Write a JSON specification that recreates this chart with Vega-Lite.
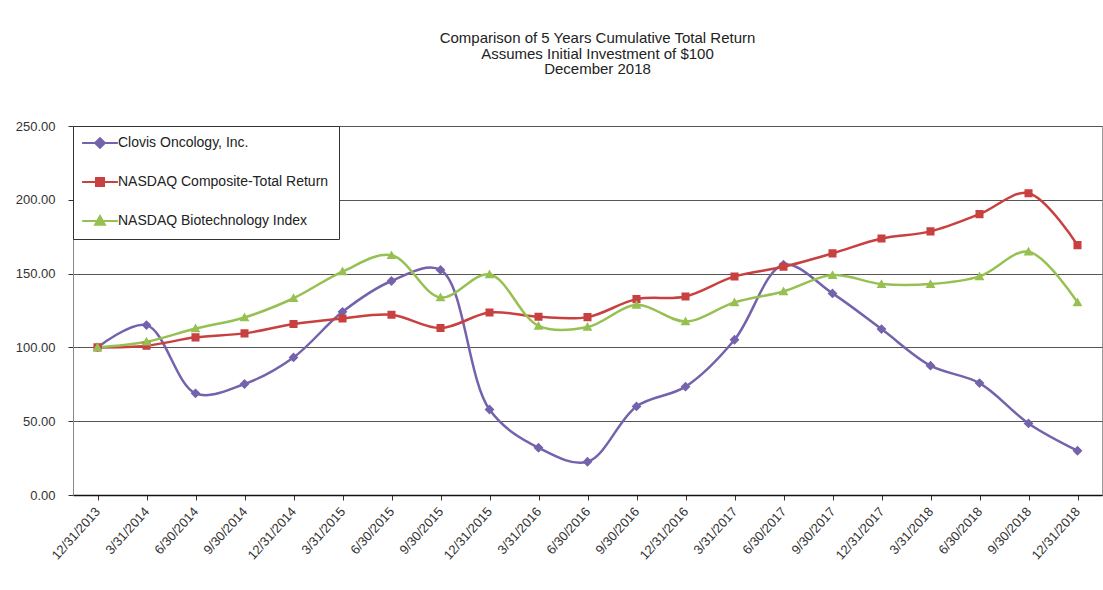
{
  "$schema": "https://vega.github.io/schema/vega-lite/v6.json",
  "width": 1029,
  "height": 369,
  "autosize": {"type": "none"},
  "padding": {"left": 73, "top": 126, "right": 1, "bottom": 95},
  "background": "white",
  "title": {
    "text": ["Comparison of 5 Years Cumulative Total Return", "Assumes Initial Investment of $100", "December 2018"],
    "anchor": "middle",
    "dx": 10,
    "offset": 43,
    "font": "Liberation Sans",
    "fontSize": 15,
    "fontWeight": "normal",
    "color": "#222",
    "lineHeight": 15.5
  },
  "config": {
    "font": "Liberation Sans",
    "view": {"stroke": "#999", "strokeWidth": 1},
    "axis": {"labelFont": "Liberation Sans", "labelColor": "#333", "labelFontSize": 12.5}
  },
  "data": {
    "values": [
      {"date": "12/31/2013", "series": "Clovis Oncology, Inc.", "value": 100},
      {"date": "3/31/2014", "series": "Clovis Oncology, Inc.", "value": 115.1},
      {"date": "6/30/2014", "series": "Clovis Oncology, Inc.", "value": 68.9},
      {"date": "9/30/2014", "series": "Clovis Oncology, Inc.", "value": 75.2},
      {"date": "12/31/2014", "series": "Clovis Oncology, Inc.", "value": 93.2},
      {"date": "3/31/2015", "series": "Clovis Oncology, Inc.", "value": 124.1},
      {"date": "6/30/2015", "series": "Clovis Oncology, Inc.", "value": 145.0},
      {"date": "9/30/2015", "series": "Clovis Oncology, Inc.", "value": 152.5},
      {"date": "12/31/2015", "series": "Clovis Oncology, Inc.", "value": 57.9},
      {"date": "3/31/2016", "series": "Clovis Oncology, Inc.", "value": 32.0},
      {"date": "6/30/2016", "series": "Clovis Oncology, Inc.", "value": 22.5},
      {"date": "9/30/2016", "series": "Clovis Oncology, Inc.", "value": 60.0},
      {"date": "12/31/2016", "series": "Clovis Oncology, Inc.", "value": 73.4},
      {"date": "3/31/2017", "series": "Clovis Oncology, Inc.", "value": 105.2},
      {"date": "6/30/2017", "series": "Clovis Oncology, Inc.", "value": 156.0},
      {"date": "9/30/2017", "series": "Clovis Oncology, Inc.", "value": 136.6},
      {"date": "12/31/2017", "series": "Clovis Oncology, Inc.", "value": 112.4},
      {"date": "3/31/2018", "series": "Clovis Oncology, Inc.", "value": 87.6},
      {"date": "6/30/2018", "series": "Clovis Oncology, Inc.", "value": 75.8},
      {"date": "9/30/2018", "series": "Clovis Oncology, Inc.", "value": 48.5},
      {"date": "12/31/2018", "series": "Clovis Oncology, Inc.", "value": 30.0},
      {"date": "12/31/2013", "series": "NASDAQ Composite-Total Return", "value": 100},
      {"date": "3/31/2014", "series": "NASDAQ Composite-Total Return", "value": 101.1},
      {"date": "6/30/2014", "series": "NASDAQ Composite-Total Return", "value": 106.8},
      {"date": "9/30/2014", "series": "NASDAQ Composite-Total Return", "value": 109.5},
      {"date": "12/31/2014", "series": "NASDAQ Composite-Total Return", "value": 115.8},
      {"date": "3/31/2015", "series": "NASDAQ Composite-Total Return", "value": 119.6},
      {"date": "6/30/2015", "series": "NASDAQ Composite-Total Return", "value": 122.1},
      {"date": "9/30/2015", "series": "NASDAQ Composite-Total Return", "value": 113.1},
      {"date": "12/31/2015", "series": "NASDAQ Composite-Total Return", "value": 123.6},
      {"date": "3/31/2016", "series": "NASDAQ Composite-Total Return", "value": 120.7},
      {"date": "6/30/2016", "series": "NASDAQ Composite-Total Return", "value": 120.5},
      {"date": "9/30/2016", "series": "NASDAQ Composite-Total Return", "value": 132.7},
      {"date": "12/31/2016", "series": "NASDAQ Composite-Total Return", "value": 134.5},
      {"date": "3/31/2017", "series": "NASDAQ Composite-Total Return", "value": 148.1},
      {"date": "6/30/2017", "series": "NASDAQ Composite-Total Return", "value": 154.6},
      {"date": "9/30/2017", "series": "NASDAQ Composite-Total Return", "value": 163.7},
      {"date": "12/31/2017", "series": "NASDAQ Composite-Total Return", "value": 173.8},
      {"date": "3/31/2018", "series": "NASDAQ Composite-Total Return", "value": 178.6},
      {"date": "6/30/2018", "series": "NASDAQ Composite-Total Return", "value": 190.3},
      {"date": "9/30/2018", "series": "NASDAQ Composite-Total Return", "value": 204.5},
      {"date": "12/31/2018", "series": "NASDAQ Composite-Total Return", "value": 169.3},
      {"date": "12/31/2013", "series": "NASDAQ Biotechnology Index", "value": 100},
      {"date": "3/31/2014", "series": "NASDAQ Biotechnology Index", "value": 103.8},
      {"date": "6/30/2014", "series": "NASDAQ Biotechnology Index", "value": 112.8},
      {"date": "9/30/2014", "series": "NASDAQ Biotechnology Index", "value": 120.3},
      {"date": "12/31/2014", "series": "NASDAQ Biotechnology Index", "value": 133.3},
      {"date": "3/31/2015", "series": "NASDAQ Biotechnology Index", "value": 151.4},
      {"date": "6/30/2015", "series": "NASDAQ Biotechnology Index", "value": 162.4},
      {"date": "9/30/2015", "series": "NASDAQ Biotechnology Index", "value": 133.8},
      {"date": "12/31/2015", "series": "NASDAQ Biotechnology Index", "value": 149.5},
      {"date": "3/31/2016", "series": "NASDAQ Biotechnology Index", "value": 114.6},
      {"date": "6/30/2016", "series": "NASDAQ Biotechnology Index", "value": 113.8},
      {"date": "9/30/2016", "series": "NASDAQ Biotechnology Index", "value": 128.7},
      {"date": "12/31/2016", "series": "NASDAQ Biotechnology Index", "value": 117.6},
      {"date": "3/31/2017", "series": "NASDAQ Biotechnology Index", "value": 130.5},
      {"date": "6/30/2017", "series": "NASDAQ Biotechnology Index", "value": 137.9},
      {"date": "9/30/2017", "series": "NASDAQ Biotechnology Index", "value": 149.0},
      {"date": "12/31/2017", "series": "NASDAQ Biotechnology Index", "value": 142.9},
      {"date": "3/31/2018", "series": "NASDAQ Biotechnology Index", "value": 142.9},
      {"date": "6/30/2018", "series": "NASDAQ Biotechnology Index", "value": 148.1},
      {"date": "9/30/2018", "series": "NASDAQ Biotechnology Index", "value": 164.8},
      {"date": "12/31/2018", "series": "NASDAQ Biotechnology Index", "value": 130.5}
    ]
  },
  "encoding": {
    "x": {
      "field": "date",
      "type": "ordinal",
      "sort": null,
      "scale": {"type": "point", "padding": 0.5},
      "axis": {
        "title": null,
        "labelAngle": -48,
        "labelFontSize": 13,
        "grid": false,
        "domainColor": "#111",
        "domainWidth": 1.5,
        "tickColor": "#333",
        "tickSize": 5,
        "labelPadding": 9
      }
    },
    "y": {
      "field": "value",
      "type": "quantitative",
      "scale": {"domain": [0, 250], "nice": false},
      "axis": {
        "title": null,
        "values": [0, 50, 100, 150, 200, 250],
        "format": ".2f",
        "grid": true,
        "gridColor": "#555",
        "gridWidth": 1,
        "domainColor": "#888",
        "tickColor": "#333",
        "tickSize": 5,
        "labelPadding": 13,
        "labelFontSize": 13
      }
    },
    "color": {
      "field": "series",
      "type": "nominal",
      "scale": {
        "domain": ["Clovis Oncology, Inc.", "NASDAQ Composite-Total Return", "NASDAQ Biotechnology Index"],
        "range": ["#7462AC", "#C8403F", "#96C152"]
      },
      "legend": {
        "title": null,
        "orient": "none",
        "legendX": 0,
        "legendY": 0,
        "direction": "vertical",
        "padding": 10,
        "strokeColor": "#333",
        "fillColor": "white",
        "labelFont": "Liberation Sans",
        "labelFontSize": 14,
        "labelColor": "#222",
        "labelLimit": 400,
        "symbolSize": 80,
        "symbolOffset": 10,
        "labelOffset": 11,
        "rowPadding": 21,
        "symbolStrokeWidth": 2,
        "encode": {
          "symbols": {
            "update": {
              "stroke": {"scale": "color", "field": "value"},
              "strokeWidth": {"value": 2}
            }
          }
        }
      }
    }
  },
  "layer": [
    {
      "mark": {"type": "line", "interpolate": "catmull-rom", "strokeWidth": 2.5}
    },
    {
      "mark": {"type": "point", "filled": true, "size": 80, "opacity": 1, "strokeWidth": 0},
      "encoding": {
        "shape": {
          "field": "series",
          "type": "nominal",
          "scale": {
            "domain": ["Clovis Oncology, Inc.", "NASDAQ Composite-Total Return", "NASDAQ Biotechnology Index"],
            "range": [
              "M-4,0H4M-1.1,0L0,-1.1L1.1,0L0,1.1Z",
              "M-4,0H4M-0.9,-0.9H0.9V0.9H-0.9Z",
              "M-4,0H4M0,-1.1L1.1,0.85H-1.1Z"
            ]
          },
          "legend": {
            "title": null,
            "orient": "none",
            "legendX": 0,
            "legendY": 0
          }
        }
      }
    }
  ]
}
